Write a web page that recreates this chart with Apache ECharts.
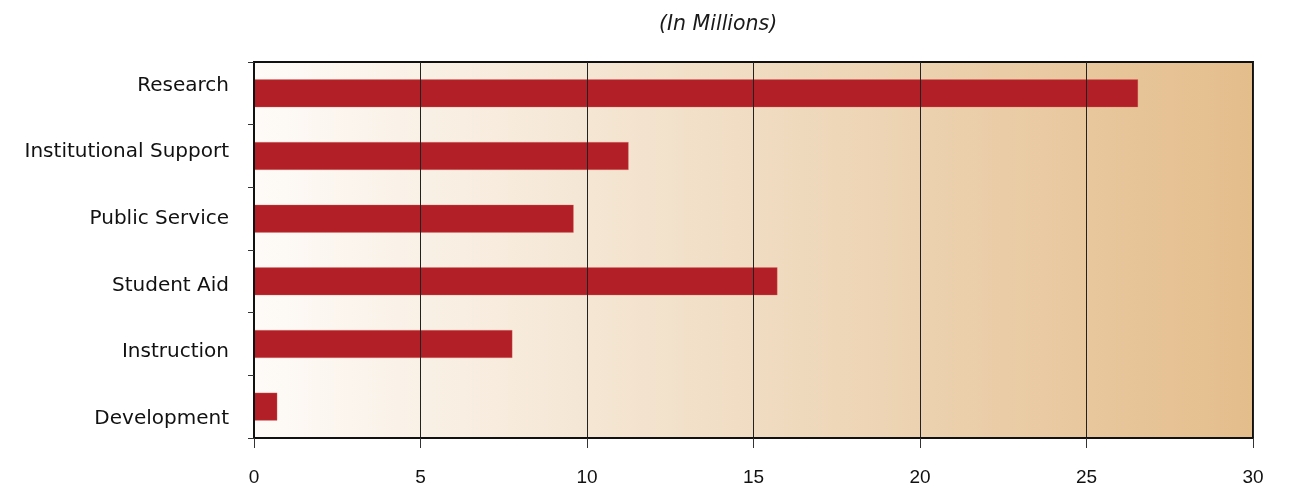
<!DOCTYPE html>
<html>
<head>
<meta charset="utf-8">
<script src="https://cdn.jsdelivr.net/npm/echarts@6/dist/echarts.min.js"></script>
<style>
  html, body { margin: 0; padding: 0; background: #ffffff; }
  #chart { width: 1296px; height: 491px; }
</style>
</head>
<body>
<div id="chart"></div>
<script>
// Expenditure categories, listed top to bottom
const categories = ['Research', 'Institutional Support', 'Public Service', 'Student Aid', 'Instruction', 'Development'];
// Amounts in millions of dollars
const amounts = [26.55, 11.25, 9.6, 15.72, 7.76, 0.7];
// Value axis range and step
const axisMin = 0;
const axisMax = 30;
const axisStep = 5;

const chart = echarts.init(document.getElementById('chart'), null, { renderer: 'canvas' });

const labelFont = '"DejaVu Sans", "Liberation Sans", Arial, sans-serif';
const tickFont = '"Liberation Sans", Arial, Helvetica, sans-serif';

chart.setOption({
  animation: false,
  title: {
    text: '(In Millions)',
    left: 654,
    top: 10,
    textStyle: {
      fontFamily: labelFont,
      fontStyle: 'italic',
      fontWeight: 'normal',
      fontSize: 20.5,
      color: '#1a1a1a'
    }
  },
  grid: [{
    // plotting area with the warm gradient fill
    left: 254,
    right: 43,
    top: 62,
    bottom: 53,
    show: true,
    borderColor: '#111111',
    borderWidth: 2,
    backgroundColor: {
      type: 'linear',
      x: 0, y: 0, x2: 1, y2: 0,
      colorStops: [
        { offset: 0, color: '#fefbf8' },
        { offset: 0.5, color: '#f0dcc2' },
        { offset: 1, color: '#e4bd8b' }
      ]
    }
  }, {
    // slightly taller band used only to space the category names
    left: 254,
    right: 43,
    top: 52,
    bottom: 39,
    show: false
  }],
  xAxis: [{
    type: 'value',
    gridIndex: 0,
    min: axisMin,
    max: axisMax,
    interval: axisStep,
    z: 5,
    axisLine: { show: true, lineStyle: { color: '#111111', width: 2 } },
    axisTick: { show: true, length: 10, lineStyle: { color: '#333333', width: 1 } },
    axisLabel: {
      margin: 30,
      fontFamily: tickFont,
      fontSize: 19,
      color: '#111111'
    },
    splitLine: { show: true, lineStyle: { color: '#222222', width: 1 } }
  }, {
    type: 'value',
    gridIndex: 1,
    min: axisMin,
    max: axisMax,
    show: false
  }],
  yAxis: [{
    type: 'category',
    gridIndex: 0,
    data: categories,
    inverse: true,
    z: 5,
    axisLine: { show: true, lineStyle: { color: '#111111', width: 2 } },
    axisTick: { show: true, length: 6, lineStyle: { color: '#333333', width: 1 } },
    axisLabel: { show: false },
    splitLine: { show: false }
  }, {
    type: 'category',
    gridIndex: 1,
    data: categories,
    inverse: true,
    axisLine: { show: false },
    axisTick: { show: false },
    axisLabel: {
      margin: 25,
      fontFamily: labelFont,
      fontSize: 20,
      color: '#111111'
    },
    splitLine: { show: false }
  }],
  series: [{
    type: 'bar',
    xAxisIndex: 0,
    yAxisIndex: 0,
    data: amounts,
    barWidth: 28,
    itemStyle: {
      color: '#b31f26',
      borderColor: 'rgba(220,120,110,0.6)',
      borderWidth: 0.5
    }
  }]
});
</script>
</body>
</html>
